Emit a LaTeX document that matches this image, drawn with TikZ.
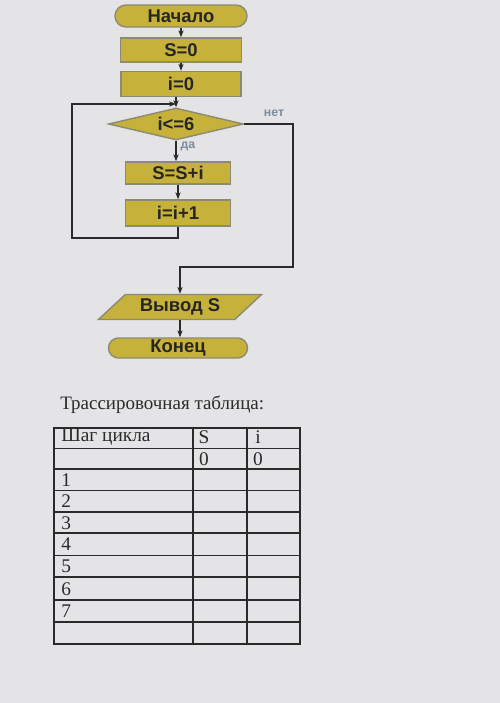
\documentclass[tikz,border=0pt]{standalone}
\usepackage{fontspec}
\setmainfont{Liberation Serif}
\newfontfamily\fsans{Liberation Sans}
\usetikzlibrary{shapes.geometric,shapes.misc,arrows.meta}
\newlength\pxl
\setlength\pxl{0.02cm}
\definecolor{bg}{HTML}{E4E4E6}
\definecolor{boxfill}{HTML}{C6B23A}
\definecolor{boxline}{HTML}{8C8A72}
\definecolor{lbl}{HTML}{7C8C9C}
\definecolor{ink}{HTML}{2A2A2A}
\tikzset{
  blk/.style={draw=boxline, line width=0.8pt, fill=boxfill, inner sep=0pt,
    font=\fsans\bfseries\fontsize{10.5}{12}\selectfont, text=black!85},
  term/.style={blk, rounded rectangle},
  proc/.style={blk, rectangle},
  dec/.style={blk, diamond, aspect=4},
  io/.style={blk, trapezium, trapezium left angle=40, trapezium right angle=140, trapezium stretches=true},
  arr/.style={draw=ink, line width=0.8pt, -{Stealth[length=4pt,width=3pt]}},
  small/.style={font=\fsans\bfseries\fontsize{7}{8}\selectfont, text=lbl},
  cell/.style={font=\fontsize{11}{12}\selectfont, text=ink, inner sep=0pt},
}
\begin{document}
\begin{tikzpicture}[x=0.02cm, y=-0.02cm]
\useasboundingbox (0,0) rectangle (500,703);
\fill[bg] (0,0) rectangle (500,703);

% flowchart
\node[term, minimum width=132\pxl, minimum height=22\pxl] (start) at (181,16) {Начало};
\node[proc, minimum width=121\pxl, minimum height=24\pxl] (s0) at (181,50) {S=0};
\node[proc, minimum width=120\pxl, minimum height=25\pxl] (i0) at (181,84) {i=0};
\node[dec, minimum width=135\pxl, minimum height=32\pxl] (cond) at (176,124) {i<=6};
\node[proc, minimum width=105\pxl, minimum height=22\pxl] (ss) at (178,173) {S=S+i};
\node[proc, minimum width=105\pxl, minimum height=26\pxl] (ii) at (178,213) {i=i+1};
\node[io, minimum width=164\pxl, minimum height=25\pxl] (out) at (180,307) {Вывод S};
\node[term, minimum width=139\pxl, minimum height=20\pxl] (end) at (178,348) {Конец};

\node[small] (no) at (274,113) {нет};
\node[small] (yes) at (188,146) {да};

\coordinate (j) at (cond.north |- 0,104);
\coordinate (lb) at (72,238);
\coordinate (lt) at (72,104);
\coordinate (r1) at (293,124);
\coordinate (r2) at (293,267);
\coordinate (r3) at (out.north |- 0,267);

\draw[arr] (start.south) -- (start.south |- s0.north);
\draw[arr] (s0.south) -- (s0.south |- i0.north);
\draw[arr] (i0.south -| cond.north) -- (cond.north);
\draw[arr] (cond.south) -- (cond.south |- ss.north);
\draw[arr] (ss.south) -- (ss.south |- ii.north);
\draw[arr] (ii.south) |- (lb) -- (lt) -- (j);
\draw[arr] (cond.east) -- (r1) -- (r2) -- (r3) -- (out.north);
\draw[arr] (out.south) -- (out.south |- end.north);

% title
\node[cell, anchor=west, font=\fontsize{10.8}{13}\selectfont] (title) at (60,405) {Трассировочная таблица:};

% table
\draw[ink, line width=0.8pt] (54,428) rectangle (300,644);
\foreach \y in {448.5,469,490.5,512,533,555.5,577,600,622}
  \draw[ink, line width=0.8pt] (54,\y) -- (300,\y);
\draw[ink, line width=0.8pt] (193,428) -- (193,644);
\draw[ink, line width=0.8pt] (247,428) -- (247,644);

\node[cell, anchor=west] (hstep) at (61,437) {Шаг цикла};
\node[cell] (hs) at (204,437) {S};
\node[cell] (hi) at (258,437) {i};
\node[cell] (s0v) at (204,459) {0};
\node[cell] (i0v) at (258,459) {0};
\foreach \n/\y in {1/480,2/501,3/523,4/544,5/566,6/589,7/611}
  \node[cell, anchor=west] (r\n) at (61,\y) {\n};
\end{tikzpicture}
\end{document}
